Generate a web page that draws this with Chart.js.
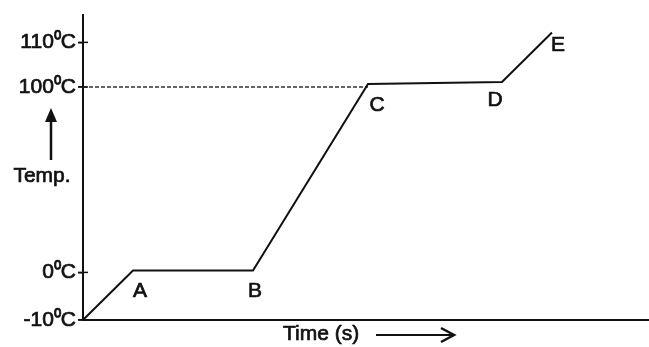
<!DOCTYPE html>
<html lang="en">

<head>
    <meta charset="UTF-8">
    <script src="https://cdn.jsdelivr.net/npm/chart.js"></script>
    <title>Heating curve</title>
    <style>
        body {
            margin: 0;
            background: #fff;
        }

        #grafico {
            display: block;
        }
    </style>
</head>

<body>
    <canvas id="grafico" width="649" height="347"></canvas>
</body>

</html>

<script>
    // points of the curve: start, A, B, C, D, E (schematic units)
    const pontos = ['', 'A', 'B', 'C', 'D', 'E'];
    const tempos = [0, 50, 170, 285, 419, 469];
    const niveis = [0, 50, 50, 238, 240, 290];

    // y axis is not to scale: tick positions and their labels
    const tickPos = [0, 48, 235, 280];
    const tickLabels = ['-10⁰C', '0⁰C', '100⁰C', '110⁰C'];

    const tempoMax = 566;
    const nivelMax = 308;
    const fonte = '"Liberation Sans", Arial, sans-serif';

    // label offsets in pixels from each point
    const offsets = [[0, 0], [7, 21], [2, 21], [9, 21], [-7, 18], [6, 13]];

    function texto(ctx, t, x, y) {
        ctx.strokeText(t, x, y);
        ctx.fillText(t, x, y);
    }

    const textos = {
        id: 'textos',
        afterDraw(chart) {
            const ctx = chart.ctx;
            const x = chart.scales.x;
            const y = chart.scales.y;
            ctx.save();
            ctx.fillStyle = '#111';
            ctx.strokeStyle = '#111';
            ctx.font = '21px ' + fonte;
            ctx.textAlign = 'center';
            ctx.textBaseline = 'middle';
            ctx.lineWidth = 0.7;

            pontos.forEach((p, i) => {
                if (!p) return;
                texto(ctx, p, x.getPixelForValue(tempos[i]) + offsets[i][0], y.getPixelForValue(niveis[i]) + offsets[i][1]);
            });

            // Temp. with arrow up
            texto(ctx, 'Temp.', 42, 176);

            // Time (s)
            ctx.textAlign = 'left';
            texto(ctx, 'Time (s)', 283, 334);

            // cross ticks on the y axis
            ctx.lineWidth = 1.5;
            const ax = chart.chartArea.left;
            tickPos.forEach(v => {
                const py = y.getPixelForValue(v);
                ctx.beginPath();
                ctx.moveTo(ax - 5, py);
                ctx.lineTo(ax + 5, py);
                ctx.stroke();
            });

            ctx.lineWidth = 2.5;
            ctx.beginPath();
            ctx.moveTo(51, 160);
            ctx.lineTo(51, 112);
            ctx.stroke();
            ctx.beginPath();
            ctx.moveTo(45, 122);
            ctx.lineTo(51, 108);
            ctx.lineTo(57, 122);
            ctx.closePath();
            ctx.fill();

            // arrow right after Time (s)
            ctx.lineWidth = 1.8;
            ctx.beginPath();
            ctx.moveTo(376, 335);
            ctx.lineTo(454, 335);
            ctx.stroke();
            ctx.lineWidth = 2.5;
            ctx.beginPath();
            ctx.moveTo(441, 328);
            ctx.lineTo(454, 335);
            ctx.lineTo(441, 342);
            ctx.stroke();
            ctx.restore();
        }
    };

    const ctx = document.getElementById('grafico').getContext('2d');

    new Chart(ctx, {
        type: 'scatter',
        data: {
            datasets: [{
                data: tempos.map((t, i) => ({ x: t, y: niveis[i] })),
                showLine: true,
                borderColor: '#111',
                borderWidth: 2,
                pointRadius: 0,
                tension: 0
            }, {
                data: [{ x: 0, y: tickPos[2] }, { x: tempos[3], y: tickPos[2] }],
                showLine: true,
                borderColor: '#333',
                borderWidth: 1.5,
                borderDash: [4, 2],
                pointRadius: 0
            }]
        },
        options: {
            responsive: false,
            animation: false,
            layout: { padding: { top: 12, right: 0, left: 0, bottom: 0 } },
            plugins: {
                legend: { display: false },
                tooltip: { enabled: false }
            },
            scales: {
                x: {
                    type: 'linear',
                    min: 0,
                    max: tempoMax,
                    ticks: { display: false },
                    grid: { display: false },
                    border: { color: '#111', width: 2 },
                    afterFit: (s) => { s.height = 27; }
                },
                y: {
                    type: 'linear',
                    min: 0,
                    max: nivelMax,
                    afterBuildTicks: (s) => { s.ticks = tickPos.map(v => ({ value: v })); },
                    ticks: {
                        color: '#111',
                        padding: 2,
                        textStrokeColor: '#111',
                        textStrokeWidth: 0.7,
                        font: { size: 21, family: fonte },
                        callback: (v, i) => tickLabels[i]
                    },
                    grid: { drawOnChartArea: false, drawTicks: true, tickLength: 5, color: '#111', lineWidth: 1.5 },
                    border: { color: '#111', width: 2 },
                    afterFit: (s) => { s.width = 83; }
                }
            }
        },
        plugins: [textos]
    });
</script>
